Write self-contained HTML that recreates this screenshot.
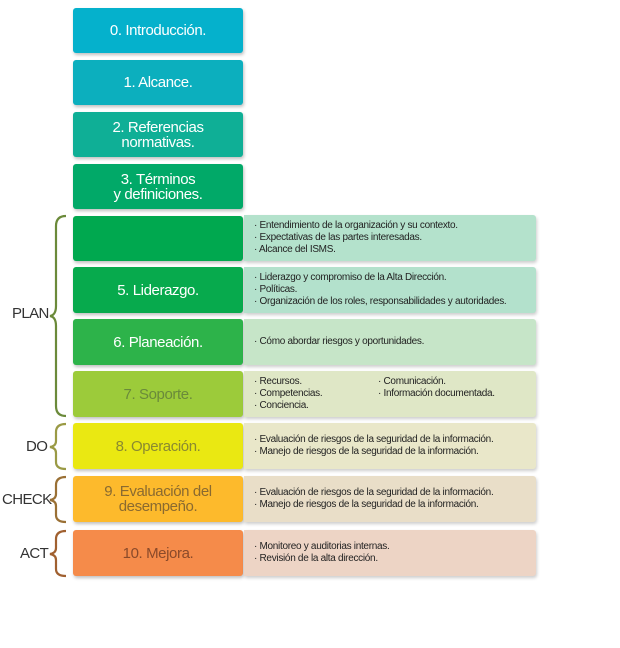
<!DOCTYPE html>
<html><head><meta charset="utf-8"><style>
body{margin:0;width:620px;height:648px;background:#fff;position:relative;font-family:"Liberation Sans",sans-serif;overflow:hidden}
.b{position:absolute;left:73px;width:170px;border-radius:3px;display:flex;align-items:center;justify-content:center;text-align:center;font-size:15px;line-height:15px;color:#fff;box-shadow:1px 2px 3px rgba(0,0,0,.25);letter-spacing:-.4px}
.p{position:absolute;left:244px;width:292px;border-radius:0 3px 3px 0;font-size:10px;line-height:12px;color:#222;box-shadow:1px 2px 3px rgba(0,0,0,.2);padding-left:10px;box-sizing:border-box;display:flex;flex-direction:column;justify-content:center;letter-spacing:-.3px}
.l{position:absolute;font-size:15px;color:#333;letter-spacing:-.6px}
</style></head><body>
<div class="b" style="top:8px;height:45px;background:#05b1cc">0. Introducción.</div>
<div class="b" style="top:60px;height:45px;background:#0cafbe">1. Alcance.</div>
<div class="b" style="top:112px;height:45px;background:#0faf96">2. Referencias<br>normativas.</div>
<div class="b" style="top:164px;height:45px;background:#01a968">3. Términos<br>y definiciones.</div>

<div class="b" style="top:216px;height:45px;background:#00a84f"></div>
<div class="p" style="top:215px;height:46px;background:#b4e2cc">· Entendimiento de la organización y su contexto.<br>· Expectativas de las partes interesadas.<br>· Alcance del ISMS.</div>
<div class="b" style="top:267px;height:46px;background:#07aa4d">5. Liderazgo.</div>
<div class="p" style="top:267px;height:46px;background:#b3e1cc">· Liderazgo y compromiso de la Alta Dirección.<br>· Políticas.<br>· Organización de los roles, responsabilidades y autoridades.</div>
<div class="b" style="top:319px;height:46px;background:#2db34a">6. Planeación.</div>
<div class="p" style="top:319px;height:46px;background:#c6e5c8">· Cómo abordar riesgos y oportunidades.</div>
<div class="b" style="top:371px;height:46px;background:#9ccb3a;color:#6a8a3a">7. Soporte.</div>
<div class="p" style="top:371px;height:46px;background:#dfe7c6;display:block;padding-top:5px">
<div style="position:absolute;left:10px;top:5px">· Recursos.<br>· Competencias.<br>· Conciencia.</div>
<div style="position:absolute;left:134px;top:5px">· Comunicación.<br>· Información documentada.</div></div>
<div class="b" style="top:423px;height:46px;background:#eae812;color:#8a8a30">8. Operación.</div>
<div class="p" style="top:423px;height:46px;background:#e9e7c9">· Evaluación de riesgos de la seguridad de la información.<br>· Manejo de riesgos de la seguridad de la información.</div>
<div class="b" style="top:476px;height:46px;background:#fdba2c;color:#8a6a30">9. Evaluación del<br>desempeño.</div>
<div class="p" style="top:476px;height:46px;background:#e9dec8">· Evaluación de riesgos de la seguridad de la información.<br>· Manejo de riesgos de la seguridad de la información.</div>
<div class="b" style="top:530px;height:46px;background:#f58b4a;color:#8a4a2a">10. Mejora.</div>
<div class="p" style="top:530px;height:46px;background:#edd4c5">· Monitoreo y auditorias internas.<br>· Revisión de la alta dirección.</div>

<svg style="position:absolute;left:0;top:0" width="80" height="648">
<g fill="none" stroke-width="2.2">
<path d="M66 216 Q56 216 56 226 L56 306 Q56 315 50 316 Q56 317 56 326 L56 406 Q56 416 66 416" stroke="#6b8a3a"/>
<path d="M66 424 Q56 424 56 432 L56 441 Q56 446 50 447 Q56 448 56 453 L56 462 Q56 469 66 469" stroke="#9a9a45"/>
<path d="M66 477 Q56 477 56 485 L56 494 Q56 499 50 500 Q56 501 56 506 L56 515 Q56 522 66 522" stroke="#9a7035"/>
<path d="M66 531 Q56 531 56 539 L56 548 Q56 553 50 554 Q56 555 56 560 L56 569 Q56 576 66 576" stroke="#a06030"/>
</g></svg>
<div class="l" style="left:12px;top:305px">PLAN</div>
<div class="l" style="left:26px;top:438px">DO</div>
<div class="l" style="left:2px;top:491px">CHECK</div>
<div class="l" style="left:20px;top:545px">ACT</div>
</body></html>
